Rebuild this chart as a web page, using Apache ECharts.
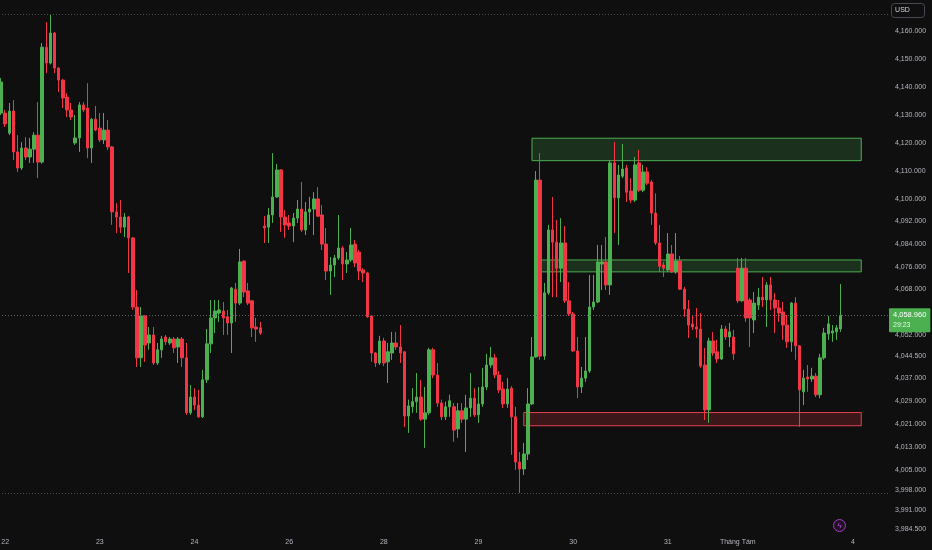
<!DOCTYPE html>
<html>
<head>
<meta charset="utf-8">
<script src="https://cdn.jsdelivr.net/npm/echarts@6/dist/echarts.min.js"></script>
<style>
  html, body { margin: 0; padding: 0; background: #0f0f0f; }
  #chart { width: 932px; height: 550px; }
</style>
</head>
<body>
<div id="chart"></div>
<script>
// hourly candles (index 0 = first visible candle)
var openPrices = [
  4130.6,4130.6,4123.4,4131.3,4116.7,4111.0,4118.1,4114.9,4117.7,4122.7,
  4113.1,4154.2,4148.5,4159.3,4146.7,4142.4,4136.3,4131.7,4119.9,4121.7,
  4133.5,4132.4,4118.1,4128.4,4125.2,4121.0,4124.5,4118.5,4095.4,4093.6,
  4090.0,4093.6,4086.2,4061.8,4044.0,4058.7,4049.2,4052.0,4042.2,4046.8,
  4051.3,4049.2,4050.6,4047.8,4050.6,4044.0,4024.8,4030.3,4027.5,4023.4,
  4036.3,4048.9,4058.0,4059.7,4060.4,4058.4,4056.2,4068.1,4063.2,4078.0,
  4067.5,4064.0,4054.8,4054.5,4090.4,4090.0,4094.3,4100.7,4110.3,4093.6,
  4091.5,4090.4,4093.2,4096.4,4089.0,4095.4,4096.4,4100.0,4094.3,4084.0,
  4074.5,4076.6,4079.1,4082.6,4077.0,4078.4,4084.0,4081.2,4074.9,4073.8,
  4058.7,4045.7,4042.2,4049.9,4042.6,4045.7,4049.2,4047.8,4046.1,4023.7,
  4026.9,4028.7,4030.3,4022.6,4024.8,4046.8,4038.0,4028.2,4023.4,4026.9,
  4026.9,4019.2,4025.5,4022.6,4026.5,4029.9,4024.1,4027.9,4033.8,4041.5,
  4044.0,4038.0,4033.1,4027.9,4033.4,4023.4,4007.7,4005.3,4010.5,4027.9,
  4044.3,4106.7,4044.6,4066.8,4089.0,4084.7,4075.5,4084.4,4064.0,4059.4,
  4046.4,4033.8,4036.9,4039.4,4061.8,4063.6,4077.0,4077.7,4069.6,4112.8,
  4100.4,4108.1,4111.0,4102.8,4099.6,4112.8,4103.1,4109.6,4106.0,4095.0,
  4084.4,4076.6,4074.9,4080.5,4074.2,4078.0,4068.1,4061.1,4055.9,4054.8,
  4054.1,4041.5,4025.8,4049.9,4046.1,4043.6,4054.1,4051.3,4051.3,4075.5,
  4064.0,4075.5,4064.3,4057.3,4062.5,4065.3,4064.3,4069.6,4064.3,4061.5,
  4060.1,4055.5,4049.6,4063.2,4048.2,4032.1,4037.3,4036.6,4037.6,4031.1,
  4044.0,4052.4,4052.7,4053.1,4054.1
];
var closePrices = [
  4141.7,4126.7,4131.3,4116.7,4111.0,4118.1,4114.9,4117.7,4122.7,4113.1,
  4154.2,4148.5,4159.3,4146.7,4142.4,4136.0,4131.7,4129.2,4121.7,4133.5,
  4131.7,4118.1,4128.4,4124.5,4121.0,4124.5,4118.5,4095.4,4093.6,4090.0,
  4093.6,4086.2,4061.8,4044.0,4058.7,4048.5,4052.0,4042.2,4046.8,4050.6,
  4049.6,4050.6,4047.5,4050.6,4044.0,4024.8,4030.3,4027.5,4023.4,4036.3,
  4048.9,4058.0,4060.4,4060.8,4058.0,4056.2,4068.5,4063.2,4077.7,4067.1,
  4063.2,4054.5,4054.1,4052.7,4089.7,4094.3,4100.7,4110.3,4093.6,4090.8,
  4090.4,4093.2,4096.4,4089.0,4095.4,4096.4,4100.0,4093.9,4084.0,4074.5,
  4076.6,4079.1,4082.6,4077.0,4078.4,4083.7,4077.3,4074.5,4073.8,4058.4,
  4045.7,4042.2,4049.9,4042.2,4046.1,4049.2,4047.8,4045.7,4023.7,4027.2,
  4028.7,4030.3,4022.6,4024.8,4046.8,4038.0,4028.2,4023.4,4026.9,4029.0,
  4018.8,4025.5,4022.6,4026.5,4029.9,4024.1,4027.9,4033.8,4041.5,4044.0,
  4038.0,4032.8,4027.9,4033.1,4023.4,4007.7,4005.3,4010.5,4027.9,4044.3,
  4106.7,4044.6,4066.8,4089.0,4084.7,4075.5,4084.4,4064.0,4059.4,4046.4,
  4033.8,4036.9,4039.4,4061.8,4063.6,4077.7,4077.7,4069.6,4112.8,4100.4,
  4108.5,4110.6,4102.4,4099.6,4112.1,4103.1,4109.6,4105.6,4095.0,4084.4,
  4076.2,4075.5,4080.5,4074.2,4078.0,4068.1,4061.1,4055.5,4054.8,4054.1,
  4041.1,4025.8,4049.9,4045.7,4043.6,4054.1,4051.3,4053.1,4045.4,4064.0,
  4075.5,4058.0,4058.0,4063.2,4065.3,4064.3,4069.6,4064.3,4061.5,4059.7,
  4055.5,4049.6,4063.2,4048.2,4032.8,4036.9,4036.6,4037.6,4031.1,4044.0,
  4052.7,4055.9,4053.4,4054.5,4058.96
];
var lowPrices = [
  4129.9,4125.6,4122.7,4113.8,4109.6,4110.3,4113.8,4112.8,4112.8,4107.4,
  4112.5,4144.9,4148.0,4144.9,4138.1,4132.4,4129.2,4128.1,4119.2,4116.7,
  4130.9,4114.5,4112.8,4124.1,4120.2,4119.5,4117.4,4090.8,4087.9,4087.9,
  4086.5,4073.8,4060.8,4040.8,4040.8,4042.6,4046.8,4041.5,4041.5,4044.0,
  4048.5,4048.5,4045.7,4042.2,4040.8,4024.1,4024.1,4025.8,4023.0,4023.0,
  4035.2,4045.7,4052.7,4056.6,4052.0,4052.0,4045.7,4056.6,4062.5,4065.3,
  4062.5,4051.3,4049.6,4052.0,4084.4,4084.4,4091.5,4100.4,4088.3,4086.2,
  4089.0,4084.7,4091.5,4088.3,4087.2,4090.8,4087.2,4093.6,4081.9,4071.3,
  4066.1,4072.4,4078.4,4071.3,4073.8,4077.7,4075.9,4071.3,4070.6,4058.0,
  4042.6,4040.8,4041.5,4041.1,4035.2,4043.3,4046.8,4042.2,4019.9,4017.8,
  4024.8,4024.8,4022.0,4012.6,4024.1,4036.9,4026.9,4022.3,4022.3,4023.4,
  4014.7,4016.1,4021.3,4011.2,4023.4,4023.4,4021.3,4026.9,4032.8,4040.5,
  4036.9,4031.7,4026.5,4026.5,4010.2,4005.0,3997.0,4003.2,4008.4,4027.5,
  4044.0,4043.3,4043.3,4066.1,4065.3,4065.3,4070.6,4063.2,4058.7,4046.1,
  4029.9,4031.7,4035.6,4038.7,4060.8,4063.2,4067.8,4067.8,4066.1,4087.9,
  4083.7,4107.4,4098.9,4098.5,4098.9,4102.4,4102.4,4104.9,4090.8,4083.7,
  4074.2,4072.4,4074.2,4073.8,4073.5,4067.8,4058.4,4051.0,4053.8,4051.0,
  4040.5,4022.3,4021.3,4044.7,4042.2,4043.3,4050.3,4047.8,4043.3,4063.2,
  4063.6,4056.6,4047.8,4052.7,4060.8,4061.8,4054.8,4060.8,4052.7,4056.6,
  4050.3,4047.5,4046.1,4043.3,4019.9,4027.5,4032.1,4035.6,4030.3,4029.9,
  4043.3,4050.3,4049.6,4050.3,4053.1
];
var highPrices = [
  4143.1,4131.7,4134.2,4135.2,4122.7,4120.2,4122.0,4121.7,4123.8,4134.5,
  4155.7,4163.2,4166.1,4159.6,4147.0,4142.8,4137.7,4134.2,4129.9,4134.5,
  4134.5,4141.3,4128.8,4133.1,4130.6,4130.6,4128.1,4118.8,4098.5,4099.6,
  4095.0,4094.0,4086.5,4067.8,4061.8,4059.0,4054.8,4054.8,4049.2,4051.7,
  4052.0,4051.3,4051.3,4051.3,4051.3,4049.2,4034.5,4033.4,4032.8,4039.8,
  4054.1,4064.3,4064.3,4064.3,4063.6,4060.8,4068.9,4070.3,4082.3,4078.3,
  4070.3,4064.3,4058.0,4056.6,4093.9,4096.8,4116.3,4112.4,4110.6,4096.1,
  4094.3,4095.0,4099.6,4106.0,4098.9,4100.7,4102.4,4104.2,4097.8,4089.7,
  4079.4,4080.2,4094.3,4083.3,4081.2,4089.7,4085.5,4081.9,4075.5,4074.2,
  4059.0,4046.0,4051.7,4051.0,4049.2,4053.1,4053.1,4055.5,4046.4,4029.4,
  4033.4,4038.7,4036.3,4033.8,4047.5,4047.5,4042.2,4029.4,4028.7,4031.1,
  4028.2,4028.2,4028.2,4031.1,4038.7,4033.4,4033.8,4040.5,4045.4,4047.8,
  4045.4,4039.4,4035.6,4036.9,4034.1,4026.9,4011.2,4014.3,4033.4,4051.3,
  4109.9,4116.3,4070.3,4090.8,4100.7,4092.5,4093.2,4090.4,4070.6,4060.1,
  4051.3,4040.8,4051.3,4073.1,4073.1,4083.7,4083.7,4086.5,4113.8,4120.2,
  4112.1,4119.5,4112.1,4107.4,4114.9,4117.4,4112.1,4111.3,4106.7,4102.0,
  4090.8,4077.7,4087.9,4083.7,4087.9,4079.8,4068.9,4064.3,4059.0,4061.5,
  4059.7,4047.5,4051.0,4053.1,4050.3,4055.5,4055.2,4056.2,4053.8,4079.1,
  4079.1,4079.1,4065.0,4067.1,4068.5,4072.4,4070.6,4072.4,4066.8,4064.3,
  4063.6,4059.0,4063.6,4065.3,4048.5,4039.8,4041.5,4040.5,4038.7,4045.4,
  4054.5,4058.7,4055.5,4055.5,4069.9
];

// x axis: 216 hourly slots, day labels at these slot indexes
var slotCount = 216;
var dayTickIndex = [1, 24, 47, 70, 93, 116, 139, 162, 179, 207];
var dayTickLabel = ['22', '23', '24', '26', '28', '29', '30', '31', 'Tháng Tám', '4'];

// price scale labels (log scale)
var priceTicks = [4160, 4150, 4140, 4130, 4120, 4110, 4100, 4092, 4084, 4076, 4068, 4060,
                  4052, 4044.5, 4037, 4029, 4021, 4013, 4005, 3998, 3991, 3984.5];

// drawn zones: [fromIndex, toIndex, upperPrice, lowerPrice]
var supplyZone = [129, 209, 4121.6, 4113.6];
var midZone = [130, 209, 4078.4, 4074.2];
var demandZone = [127, 209, 4024.9, 4020.3];

var lastPrice = 4058.96;
var countdown = '29:23';
var rangeHigh = 4166.1;
var rangeLow = 3997.0;

var UP = '#4caf50', DOWN = '#f23645', TXT = '#b2b5be';

var categories = [];
for (var i = 0; i < slotCount; i++) categories.push('h' + i);

var candles = openPrices.map(function (o, i) {
  return [o, closePrices[i], lowPrices[i], highPrices[i]];
});

function fmtPrice(v) {
  return Number(v).toLocaleString('en-US', { minimumFractionDigits: 3, maximumFractionDigits: 3 });
}

function zoneArea(z, fill, stroke) {
  return [
    { xAxis: z[0], yAxis: z[2], itemStyle: { color: fill, borderColor: stroke, borderWidth: 1 } },
    { xAxis: z[1], yAxis: z[3] }
  ];
}

var chart = echarts.init(document.getElementById('chart'));
chart.setOption({
  backgroundColor: '#0f0f0f',
  animation: false,
  textStyle: { fontFamily: 'Liberation Sans' },
  grid: { left: -1, right: 44, top: 0, bottom: 18, containLabel: false, outerBoundsMode: 'none' },
  xAxis: {
    type: 'category',
    data: categories,
    boundaryGap: true,
    axisLine: { show: false },
    axisTick: { show: false },
    splitLine: { show: false },
    axisLabel: {
      color: TXT,
      fontSize: 7,
      margin: 7,
      interval: function (idx) { return dayTickIndex.indexOf(idx) >= 0; },
      formatter: function (v, idx) {
        var k = dayTickIndex.indexOf(idx);
        return k >= 0 ? dayTickLabel[k] : '';
      }
    }
  },
  yAxis: {
    type: 'log',
    logBase: 10,
    min: 3983.5,
    max: 4171.2,
    position: 'right',
    axisLine: { show: false },
    axisTick: { show: false },
    splitLine: { show: false },
    axisLabel: {
      customValues: priceTicks,
      color: TXT,
      fontSize: 7,
      margin: 7,
      formatter: fmtPrice
    }
  },
  series: [{
    type: 'candlestick',
    data: candles,
    barWidth: 3,
    itemStyle: {
      color: UP, color0: DOWN,
      borderColor: UP, borderColor0: DOWN,
      borderWidth: 1
    },
    markArea: {
      silent: true,
      data: [
        zoneArea(supplyZone, 'rgba(76,175,80,0.22)', '#4caf50'),
        zoneArea(midZone, 'rgba(76,175,80,0.22)', '#4caf50'),
        zoneArea(demandZone, 'rgba(242,54,69,0.2)', '#e0404d')
      ]
    },
    markLine: {
      silent: true,
      symbol: 'none',
      data: [
        { yAxis: rangeHigh, lineStyle: { color: '#4a4c52', width: 1, type: [1, 2] }, label: { show: false } },
        { yAxis: rangeLow, lineStyle: { color: '#4a4c52', width: 1, type: [1, 2] }, label: { show: false } },
        {
          yAxis: lastPrice,
          lineStyle: { color: '#5d6068', width: 1, type: [1, 2] },
          label: {
            show: true,
            position: 'end',
            distance: 1,
            offset: [0, 5],
            backgroundColor: '#4caf50',
            padding: [2, 4, 2, 4],
            borderRadius: 1,
            formatter: function () { return '{p|' + fmtPrice(lastPrice) + '}\n{t|' + countdown + '}'; },
            rich: {
              p: { color: '#ffffff', fontSize: 7.5, lineHeight: 10 },
              t: { color: '#e8f5e9', fontSize: 7, lineHeight: 10 }
            }
          }
        }
      ]
    }
  }],
  graphic: [
    {
      type: 'group', left: 891, top: 3,
      children: [
        { type: 'rect', shape: { x: 0, y: 0, width: 33, height: 14, r: 3 },
          style: { fill: '#0f0f0f', stroke: '#474a52', lineWidth: 1 } },
        { type: 'text', x: 11, y: 7,
          style: { text: 'USD', fill: '#d1d4dc', fontSize: 7, align: 'center', verticalAlign: 'middle' } }
      ]
    },
    {
      type: 'group', left: 833, top: 519,
      children: [
        { type: 'circle', shape: { cx: 6, cy: 6, r: 6 },
          style: { fill: 'rgba(156,39,176,0.15)', stroke: '#a13fbf', lineWidth: 1 } },
        { type: 'text', x: 6, y: 6,
          style: { text: 'ϟ', fill: '#b04fd0', fontSize: 8, align: 'center', verticalAlign: 'middle' } }
      ]
    }
  ]
});
</script>
</body>
</html>
